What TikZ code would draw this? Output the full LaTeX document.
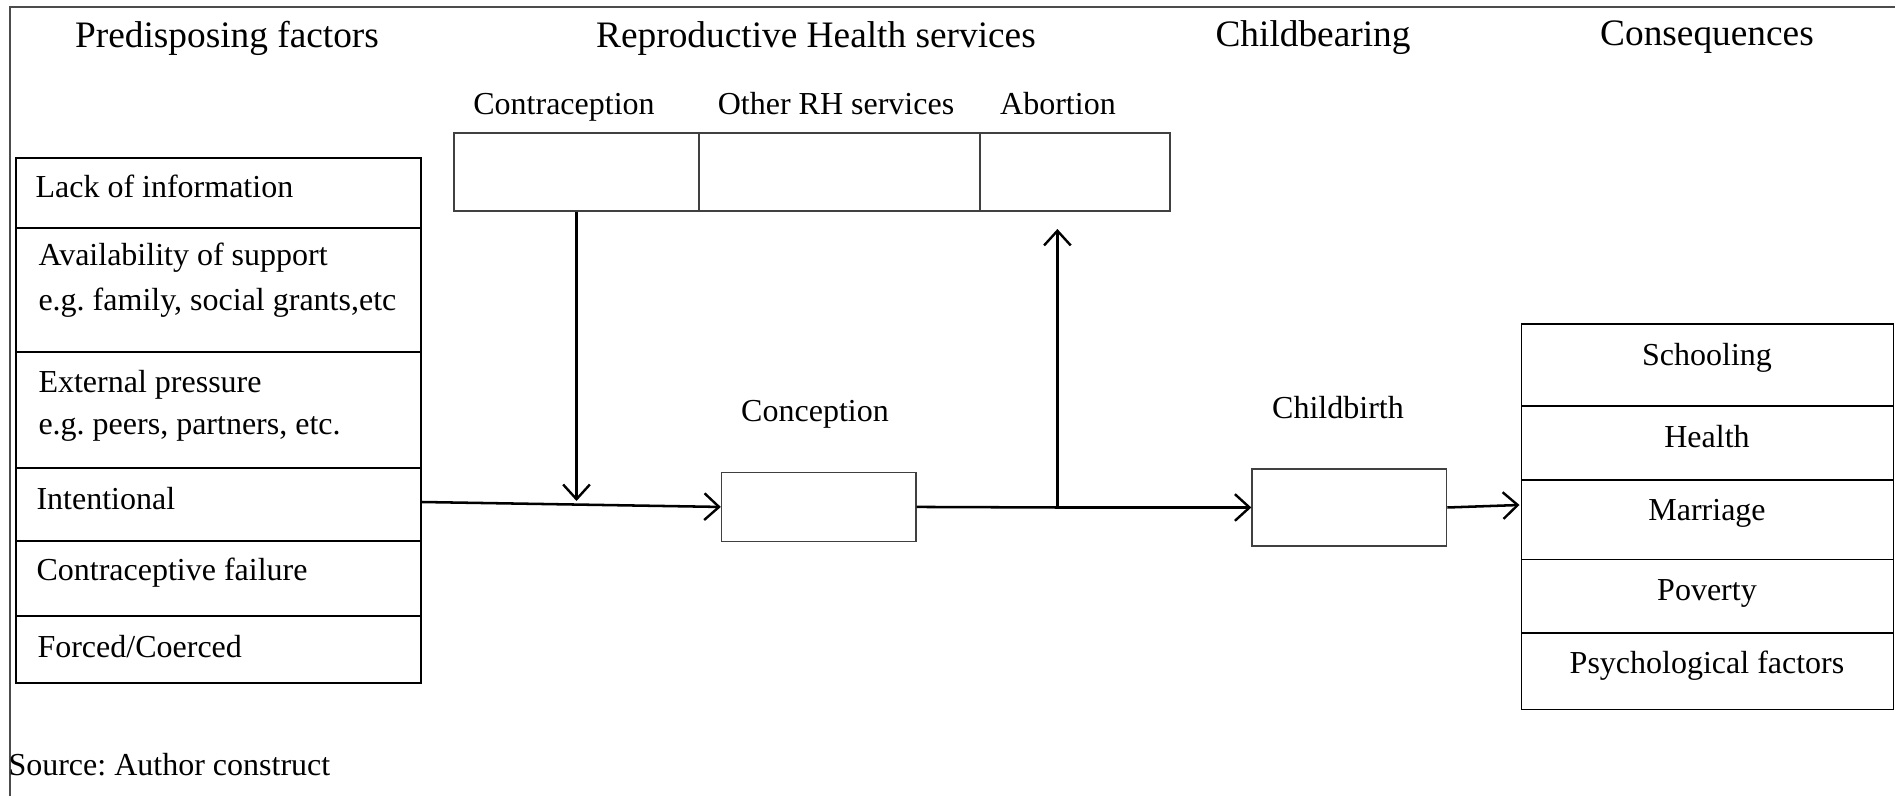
\documentclass[tikz,border=0pt]{standalone}
\usepackage{fontspec}
\setmainfont{Liberation Serif}
\usetikzlibrary{arrows.meta,fit}
\frenchspacing
\begin{document}
\begin{tikzpicture}[x=0.375pt,y=-0.375pt,
  cell/.style={draw=black, line width=0.5pt, inner sep=0pt},
  gcell/.style={draw=black!75, line width=0.5pt, inner sep=0pt},
  head/.style={inner sep=0pt, anchor=base, font=\fontsize{14}{16}\selectfont},
  sub/.style={inner sep=0pt, anchor=base, font=\fontsize{12}{14}\selectfont},
  ltxt/.style={inner sep=0pt, anchor=base west, font=\fontsize{12}{14}\selectfont},
  conn/.style={line width=0.95pt, -{Straight Barb[length=5.5pt,width=10pt,line width=0.9pt]}},
  plain/.style={line width=0.95pt}
]
\useasboundingbox (0,0) rectangle (1895,796);
% frame
\draw[black!70, line width=0.55pt] (10,796) -- (10,7) -- (1895,7);

% headers
\node[head] (h1) at (227,47.5) {Predisposing factors};
\node[head] (h2) at (816,47.5) {Reproductive Health services};
\node[head] (h3) at (1313,46.5) {Childbearing};
\node[head] (h4) at (1707,46) {Consequences};

% sub headers
\node[sub] (s1) at (564,114.5) {Contraception};
\node[sub] (s2) at (836,114.5) {Other RH services};
\node[sub] (s3) at (1058,114.5) {Abortion};

% RH services box
\node[gcell, fit={(454,133) (699,211)}] (contra) {};
\node[gcell, fit={(699,133) (980,211)}] (other) {};
\node[gcell, fit={(980,133) (1170,211)}] (abort) {};

% left column
\node[cell, fit={(16,158) (421,228)}] (r1) {};
\node[cell, fit={(16,228) (421,352)}] (r2) {};
\node[cell, fit={(16,352) (421,468)}] (r3) {};
\node[cell, fit={(16,468) (421,541)}] (r4) {};
\node[cell, fit={(16,541) (421,616)}] (r5) {};
\node[cell, fit={(16,616) (421,683)}] (r6) {};

\node[ltxt] (t1) at (35,198) {Lack of information};
\node[ltxt] (t2a) at (38,266) {Availability of support};
\node[ltxt] (t2b) at (38,311) {e.g. family, social grants,etc};
\node[ltxt] (t3a) at (38,393) {External pressure};
\node[ltxt] (t3b) at (38,435) {e.g. peers, partners, etc.};
\node[ltxt] (t4) at (36,510) {Intentional};
\node[ltxt] (t5) at (36,581) {Contraceptive failure};
\node[ltxt] (t6) at (37,658) {Forced/Coerced};

\node[ltxt] (src) at (8,776) {Source: Author construct};

% middle boxes
\node[sub] (lc) at (815,421.5) {Conception};
\node[gcell, fit={(721.5,472.5) (916,541.4)}] (concep) {};
\node[sub] (lb) at (1338,419) {Childbirth};
\node[gcell, fit={(1252,469) (1446.6,546)}] (birth) {};

% consequences column
\node[cell, fit={(1521.5,324) (1893.7,406)}] (c1) {};
\node[cell, fit={(1521.5,406) (1893.7,480)}] (c2) {};
\node[cell, fit={(1521.5,480) (1893.7,559.5)}] (c3) {};
\node[cell, fit={(1521.5,559.5) (1893.7,633)}] (c4) {};
\node[cell, fit={(1521.5,633) (1893.7,709.4)}] (c5) {};
\node[sub] (ct1) at (1707,365.5) {Schooling};
\node[sub] (ct2) at (1707,447.5) {Health};
\node[sub] (ct3) at (1707,520.5) {Marriage};
\node[sub] (ct4) at (1707,600.5) {Poverty};
\node[sub] (ct5) at (1707,674) {Psychological factors};

% connectors
\coordinate (istart) at (421,502);
\coordinate (ctip) at (576.5,501);
\coordinate (abase) at (1057.4,507.5);
\coordinate (atip) at (1057.4,229);
\coordinate (cend) at (1519.5,505);

\draw[conn] (istart) -- (concep.west);
\draw[conn] (contra.south) -- (ctip);
\draw[plain] (concep.east) -- (abase);
\draw[conn] (abase) -- (atip);
\draw[conn] (abase) -- (birth.west);
\draw[conn] (birth.east) -- (cend);
\end{tikzpicture}
\end{document}
